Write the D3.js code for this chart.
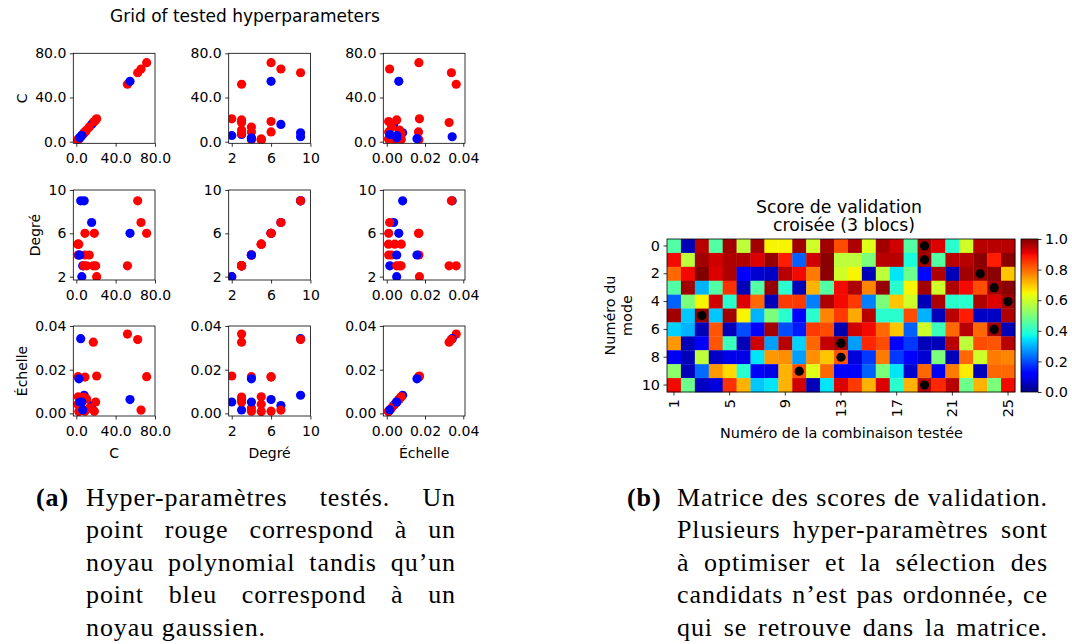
<!DOCTYPE html>
<html><head><meta charset="utf-8">
<script src="https://cdn.jsdelivr.net/npm/d3@7"></script>
<style>
body{margin:0;background:#fff;}
svg{display:block;}
text{font-family:"DejaVu Sans",sans-serif;fill:#000;}
.cap text{font-family:"Liberation Serif",serif;letter-spacing:0.9px;}
</style>
</head><body>
<svg id="c" width="1072" height="644"></svg>
<script>
// ---------- data: scatter matrix (25 tested combinations) ----------
const kernel = ["poly","poly","rbf","rbf","rbf","poly","poly","poly","poly","poly","rbf","poly","rbf","poly","poly","poly","poly","poly","poly","rbf","poly","rbf","poly","poly","rbf"];
const valC   = [52,17.3,4.5,8.0,15.6,62.4,71.5,20.7,1.8,8.8,2.7,65.8,54.6,18.3,2.0,1.5,2.5,8.8,13.2,6.5,7.5,3.5,19.7,10.5,5.6];
const valDeg = [3,3,9,9,7,9,6,2,4,6,4,7,6,6,5,5,5,4,4,3,3,4,3,3,2];
const valEch = [0.0363,0.0326,0.0342,0.0083,0.0036,0.0338,0.0168,0.0171,0.0168,0.0166,0.0158,0.0015,0.0063,0.0010,0.0076,0.0042,0.0009,0.0010,0.0025,0.0016,0.0075,0.0052,0.0052,0.0066,0.0052];
const varNames = ["C","Degré","Échelle"];
const ticksC = [0,40,80];
const ticksDeg = [2,6,10];
const ticksEch = [0,0.02,0.04];
const scatterTitle = "Grid of tested hyperparameters";

// ---------- data: validation score matrix (11 modes x 25 combinations) ----------
const score0  = [.45,.05,.95,.45,.97,.58,.97,.65,.65,.97,.60,.97,.83,.96,.62,.97,.93,.45,.97,.92,.40,.60,.95,.95,.95];
const score1  = [.90,.58,.97,.93,.96,.96,.92,.98,.88,.22,.93,.99,.58,.58,.50,.95,.95,.38,.97,.45,.95,.95,.99,.88,.99];
const score2  = [.80,.90,1.0,.92,.96,.12,.07,.06,.95,.90,.78,.99,.60,.65,.05,.58,.35,.48,.13,.96,.05,.97,.98,.99,.70];
const score3  = [.45,.97,.30,.45,.86,.05,.45,.98,.40,.05,.72,.45,.90,.96,.77,.98,.40,.65,.97,.60,.96,.90,.83,.97,.99];
const score4  = [.22,.50,.65,.93,.40,.92,.80,.05,.85,.85,.25,.96,.90,.85,.25,.50,.70,.60,.05,.96,.40,.40,.96,.92,.97];
const score5  = [.97,.32,.98,.32,.97,.65,.30,.50,.40,.12,.40,.77,.85,.73,.95,.40,.40,.83,.30,.05,.95,.88,.06,.06,.96];
const score6  = [.33,.30,.05,.82,.05,.20,.12,.97,.20,.15,.85,.83,.04,.93,.90,.80,.70,.22,.60,.42,.80,.95,.80,.97,.05];
const score7  = [.75,.05,.12,.82,.42,.05,.93,.28,.95,.33,.80,.94,.97,.28,.87,.83,.12,.18,.05,.05,.95,.58,.83,.82,.95];
const score8  = [.10,.05,.58,.06,.09,.09,.35,.75,.76,.28,.76,.70,.82,.08,.18,.78,.18,.12,.07,.50,.05,.80,.60,.78,.77];
const score9  = [.52,.05,.23,.75,.68,.40,.12,.09,.72,.83,.62,.80,.12,.12,.22,.50,.35,.07,.80,.10,.78,.66,.05,.80,.80];
const score10 = [.90,.48,.06,.08,.86,.72,.32,.35,.72,.93,.05,.35,.92,.85,.72,.92,.40,.72,.95,.87,.95,.48,.72,.50,.90];
const scoreRows = [score0,score1,score2,score3,score4,score5,score6,score7,score8,score9,score10];
const bestCol = [18,18,22,23,24,2,23,12,12,9,18];   // black dot per mode (0-based column)
const comboTicks = [1,5,9,13,17,21,25];
const modeTicks = [0,2,4,6,8,10];
const cbarTicks = [0,0.2,0.4,0.6,0.8,1.0];
const heatTitle = ["Score de validation","croisée (3 blocs)"];
const heatXLabel = "Numéro de la combinaison testée";
const heatYLabel = ["Numéro du","mode"];

// ---------- captions ----------
const captionA = ["Hyper-paramètres testés. Un","point rouge correspond à un","noyau polynomial tandis qu’un","point bleu correspond à un","noyau gaussien."];
const captionB = ["Matrice des scores de validation.","Plusieurs hyper-paramètres sont","à optimiser et la sélection des","candidats n’est pas ordonnée, ce","qui se retrouve dans la matrice."];

// ---------- drawing ----------
const svg = d3.select("#c");
svg.append("rect").attr("width",1072).attr("height",644).attr("fill","#fff");

const jetR = d3.scaleLinear().domain([0,0.35,0.66,0.89,1]).range([0,0,1,1,0.5]).clamp(true);
const jetG = d3.scaleLinear().domain([0,0.125,0.375,0.64,0.91,1]).range([0,0,1,1,0,0]).clamp(true);
const jetB = d3.scaleLinear().domain([0,0.11,0.34,0.65,1]).range([0.5,1,1,0,0]).clamp(true);
const jet = v => d3.rgb(jetR(v)*255, jetG(v)*255, jetB(v)*255).formatHex();

function styleAxis(g, fs){
  g.select(".domain").remove();
  g.selectAll(".tick line").attr("stroke","#000").attr("stroke-width",0.8);
  g.selectAll(".tick text").attr("font-size",fs).attr("font-family","DejaVu Sans").attr("fill","#000");
}

// scatter matrix
const vars = [
  {values:valC,   ticks:ticksC,   fmt:d3.format(".1f"), xdom:[-3.05,80],      ydom:[-1.45,80]},
  {values:valDeg, ticks:ticksDeg, fmt:d3.format("d"),   xdom:[1.69,10],       ydom:[1.69,10]},
  {values:valEch, ticks:ticksEch, fmt:d3.format(".2f"), xdom:[-0.0018,0.0409],ydom:[-0.0012,0.04]}
];
const colLeft=[73.3,228.7,383.3], rowTop=[53.3,190,326], PW=81.7, PH=90, FS=14;
const defs = svg.append("defs");
svg.append("text").attr("x",245).attr("y",22).attr("text-anchor","middle").attr("font-size",17).text(scatterTitle);

const N = kernel.length;
for(let i=0;i<3;i++){
  let minTickX = Infinity;
  for(let j=0;j<3;j++){
    const L=colLeft[j], T=rowTop[i];
    const x=d3.scaleLinear().domain(vars[j].xdom).range([L,L+PW]);
    const y=d3.scaleLinear().domain(vars[i].ydom).range([T+PH,T]);
    const cid="clip"+i+j;
    defs.append("clipPath").attr("id",cid).append("rect").attr("x",L).attr("y",T).attr("width",PW).attr("height",PH);
    const g=svg.append("g");
    g.append("g").attr("clip-path","url(#"+cid+")")
      .selectAll("circle").data(d3.range(N)).join("circle")
      .attr("cx",k=>x(vars[j].values[k])).attr("cy",k=>y(vars[i].values[k])).attr("r",4.6)
      .attr("fill",k=>kernel[k]==="poly"?"#ff0000":"#0000ff");
    const ax=g.append("g").attr("transform",`translate(0,${T+PH})`)
      .call(d3.axisBottom(x).tickValues(vars[j].ticks).tickFormat(vars[j].fmt).tickSize(3.5).tickPadding(3.5));
    styleAxis(ax,FS); ax.selectAll(".tick text").attr("dy","0.9em");
    const ay=g.append("g").attr("transform",`translate(${L},0)`)
      .call(d3.axisLeft(y).tickValues(vars[i].ticks).tickFormat(vars[i].fmt).tickSize(3.5).tickPadding(3.5));
    styleAxis(ay,FS);
    if(j===0){ ay.selectAll(".tick text").each(function(){ const b=this.getBBox(); const m=this.getCTM(); minTickX=Math.min(minTickX,b.x+m.e); }); }
    g.append("rect").attr("x",L).attr("y",T).attr("width",PW).attr("height",PH).attr("fill","none").attr("stroke","#000").attr("stroke-width",0.8);
    if(i===2){
      svg.append("text").attr("x",L+PW/2).attr("y",T+PH+42).attr("text-anchor","middle").attr("font-size",FS).text(varNames[j]);
    }
  }
  const cy=rowTop[i]+PH/2, bx=minTickX-8;
  svg.append("text").attr("transform",`translate(${bx},${cy}) rotate(-90)`).attr("text-anchor","middle").attr("font-size",FS).text(varNames[i]);
}

// heatmap
const HL=667,HR=1015,HT=239,HB=392, HFS=14.4;
const hx=d3.scaleBand().domain(d3.range(25)).range([HL,HR]);
const hy=d3.scaleBand().domain(d3.range(11)).range([HT,HB]);
const hg=svg.append("g");
scoreRows.forEach((row,r)=>{
  hg.selectAll(null).data(row).join("rect")
    .attr("x",(v,c)=>hx(c)).attr("y",hy(r)).attr("width",hx.bandwidth()+0.3).attr("height",hy.bandwidth()+0.3)
    .attr("fill",v=>jet(v));
});
hg.selectAll("circle.best").data(bestCol).join("circle").attr("class","best")
  .attr("cx",c=>hx(c)+hx.bandwidth()/2).attr("cy",(c,r)=>hy(r)+hy.bandwidth()/2).attr("r",4.6).attr("fill","#000");
hg.append("rect").attr("x",HL).attr("y",HT).attr("width",HR-HL).attr("height",HB-HT).attr("fill","none").attr("stroke","#000").attr("stroke-width",0.8);
const hax=hg.append("g").attr("transform",`translate(0,${HB})`)
  .call(d3.axisBottom(hx).tickValues(comboTicks.map(t=>t-1)).tickFormat(d=>String(d+1)).tickSize(3.5));
styleAxis(hax,HFS);
hax.selectAll(".tick text").attr("transform","rotate(-90)").attr("x",-7).attr("y",0).attr("dy","0.35em").attr("text-anchor","end");
const hay=hg.append("g").attr("transform",`translate(${HL},0)`)
  .call(d3.axisLeft(hy).tickValues(modeTicks).tickSize(3.5).tickPadding(3.5));
styleAxis(hay,HFS);
svg.append("text").attr("x",839).attr("y",213).attr("text-anchor","middle").attr("font-size",17.3).text(heatTitle[0]);
svg.append("text").attr("x",844).attr("y",231).attr("text-anchor","middle").attr("font-size",17.3).text(heatTitle[1]);
svg.append("text").attr("x",841.5).attr("y",438).attr("text-anchor","middle").attr("font-size",HFS).text(heatXLabel);
svg.append("text").attr("transform",`translate(615,315.5) rotate(-90)`).attr("text-anchor","middle").attr("font-size",HFS).text(heatYLabel[0]);
svg.append("text").attr("transform",`translate(632,315.5) rotate(-90)`).attr("text-anchor","middle").attr("font-size",HFS).text(heatYLabel[1]);

// colorbar
const CL=1021, CR=1038;
const cscale=d3.scaleLinear().domain([0,1]).range([HB,HT]);
const grad=defs.append("linearGradient").attr("id","jetg").attr("x1",0).attr("y1",1).attr("x2",0).attr("y2",0);
d3.range(0,1.0001,0.01).forEach(t=>grad.append("stop").attr("offset",t).attr("stop-color",jet(t)));
svg.append("rect").attr("x",CL).attr("y",HT).attr("width",CR-CL).attr("height",HB-HT).attr("fill","url(#jetg)").attr("stroke","#000").attr("stroke-width",0.8);
const cax=svg.append("g").attr("transform",`translate(${CR},0)`)
  .call(d3.axisRight(cscale).tickValues(cbarTicks).tickFormat(d3.format(".1f")).tickSize(3.5).tickPadding(3.5));
styleAxis(cax,HFS);

// captions
const cap=svg.append("g").attr("class","cap");
const CFS=26;
function line(words,x0,x1,y,justify){
  const nodes=words.map(w=>cap.append("text").attr("y",y).attr("font-size",CFS).text(w));
  const ws=nodes.map(n=>n.node().getComputedTextLength());
  const tot=d3.sum(ws);
  const sp=(justify&&words.length>1)?(x1-x0-tot)/(words.length-1):CFS*0.3;
  let x=x0; nodes.forEach((n,k)=>{n.attr("x",x); x+=ws[k]+sp;});
}
const capY=[506,538,571,603,636];
cap.append("text").attr("x",36).attr("y",capY[0]).attr("font-size",CFS).attr("font-weight","bold").text("(a)");
cap.append("text").attr("x",627).attr("y",capY[0]).attr("font-size",CFS).attr("font-weight","bold").text("(b)");
captionA.forEach((s,k)=>line(s.split(" "),86,456,capY[k],k<4));
captionB.forEach((s,k)=>line(s.split(" "),677,1048,capY[k],true));
</script>
</body></html>
